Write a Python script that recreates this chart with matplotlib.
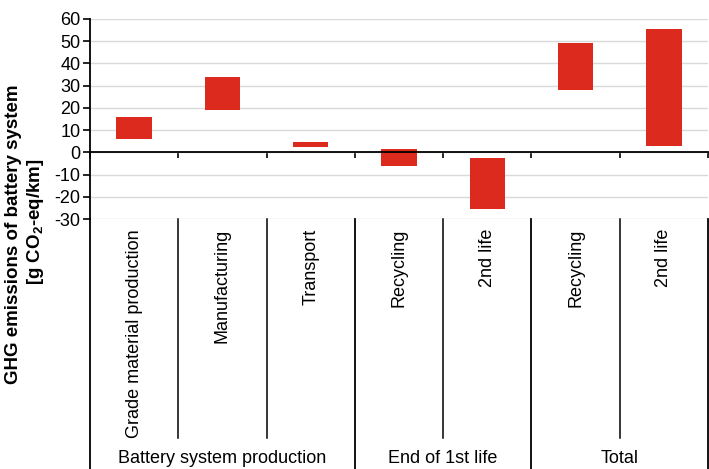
import matplotlib
matplotlib.use("Agg")
import matplotlib.pyplot as plt
import matplotlib.transforms as mtransforms
import numpy as np

plt.rcParams['font.family'] = ['Liberation Sans', 'DejaVu Sans']
plt.rcParams['mathtext.fontset'] = 'custom'
plt.rcParams['mathtext.rm'] = 'Liberation Sans:bold'
plt.rcParams['mathtext.bf'] = 'Liberation Sans:bold'

# data
categories = ["Grade material production", "Manufacturing", "Transport",
              "Recycling", "2nd life", "Recycling", "2nd life"]
groups = ["Battery system production", "End of 1st life", "Total"]
group_sizes = [3, 2, 2]
bar_bottom = [6, 19, 2.5, -6, -25.5, 28, 3]
bar_top = [16, 34, 4.5, 1.5, -2.5, 49, 55.5]
yticks = [-30, -20, -10, 0, 10, 20, 30, 40, 50, 60]

W, H = 709, 469
fig = plt.figure(figsize=(W / 100, H / 100), dpi=100)
ax = fig.add_axes([90 / W, 1 - 219 / H, 618 / W, 200 / H])

x = np.arange(len(categories))
heights = np.array(bar_top) - np.array(bar_bottom)
ax.bar(x, heights, bottom=bar_bottom, width=0.4, color='#dc2a1e', zorder=3)

ax.set_xlim(-0.5, len(categories) - 0.5)
ax.set_ylim(-30, 60)
ax.set_yticks(yticks)
ax.set_yticklabels([str(t) for t in yticks], fontsize=13)
ax.grid(axis='y', color='#d9d9d9', lw=1)
ax.set_axisbelow(True)

for s in ['top', 'right']:
    ax.spines[s].set_visible(False)
ax.spines['left'].set_linewidth(1.3)
ax.spines['bottom'].set_position(('data', 0))
ax.spines['bottom'].set_linewidth(1.3)
ax.spines['bottom'].set_zorder(4)
ax.set_xticks(np.arange(len(categories) + 1) - 0.5)
ax.set_xticklabels([])
ax.tick_params(axis='x', direction='out', length=4, width=1.2)
ax.tick_params(axis='y', direction='out', length=5, width=1.2, pad=2)

# lower category area
blend = mtransforms.blended_transform_factory(ax.transData, fig.transFigure)
y_top = 1 - 219 / H
y_inner = 1 - 438 / H
for i, lab in enumerate(categories):
    ax.text(i, 1 - 229 / H, lab, rotation=90, ha='center', va='top',
            fontsize=13, transform=blend, clip_on=False)

edges = np.cumsum([0] + group_sizes) - 0.5
for b in np.arange(len(categories) + 1) - 0.5:
    if b in edges:
        ax.plot([b, b], [y_top, 0], transform=blend, color='black', lw=1.3, clip_on=False)
    else:
        ax.plot([b, b], [y_top, y_inner], transform=blend, color='black', lw=1.1, clip_on=False)

for g, lab in enumerate(groups):
    xc = (edges[g] + edges[g + 1]) / 2
    ax.text(xc, 1 - 458 / H, lab, ha='center', va='center', fontsize=13,
            transform=blend, clip_on=False)

fig.text(14 / W, 1 - 234 / H, "GHG emissions of battery system", rotation=90,
         ha='center', va='center', fontsize=13.5, fontweight='bold')
fig.text(35 / W, 1 - 222 / H, "[g CO$_2$-eq/km]", rotation=90,
         ha='center', va='center', fontsize=13.5, fontweight='bold')

fig.savefig("out.png", dpi=100)
